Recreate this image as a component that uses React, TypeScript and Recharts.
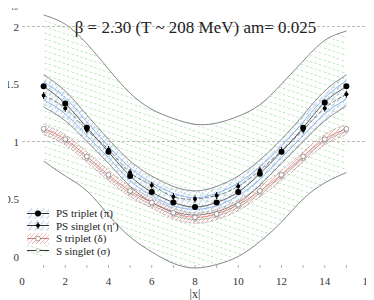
import React from 'react';
import { ComposedChart, Area, Line, XAxis, YAxis, ReferenceLine } from 'recharts';

// |x| positions and correlator values (units of 10^8)
const xs = [1, 2, 3, 4, 5, 6, 7, 8, 9, 10, 11, 12, 13, 14, 15];
const psTriplet = [1.48, 1.33, 1.12, 0.91, 0.70, 0.56, 0.47, 0.43, 0.47, 0.56, 0.72, 0.91, 1.12, 1.34, 1.48];
const psSinglet = [1.40, 1.29, 1.10, 0.93, 0.73, 0.62, 0.52, 0.50, 0.53, 0.61, 0.75, 0.92, 1.10, 1.29, 1.41];
const psBlue = [1.52, 1.38, 1.17, 0.96, 0.77, 0.64, 0.55, 0.51, 0.55, 0.64, 0.78, 0.96, 1.17, 1.38, 1.53];
const psBlue2 = [1.36, 1.24, 1.05, 0.86, 0.66, 0.53, 0.44, 0.41, 0.44, 0.53, 0.67, 0.86, 1.05, 1.24, 1.37];
const psBandHi = [1.58, 1.44, 1.23, 1.02, 0.83, 0.70, 0.61, 0.57, 0.61, 0.70, 0.84, 1.02, 1.23, 1.44, 1.58];
const psBandLo = [1.30, 1.18, 1.00, 0.81, 0.61, 0.47, 0.39, 0.36, 0.39, 0.47, 0.62, 0.81, 1.00, 1.18, 1.31];
const sTriplet = [1.11, 1.02, 0.87, 0.71, 0.57, 0.47, 0.38, 0.34, 0.37, 0.45, 0.57, 0.71, 0.87, 1.02, 1.11];
const sSinglet = [1.09, 1.00, 0.85, 0.69, 0.55, 0.45, 0.36, 0.32, 0.35, 0.43, 0.55, 0.69, 0.85, 1.00, 1.09];
const sBandHi = [1.15, 1.06, 0.91, 0.75, 0.61, 0.51, 0.42, 0.38, 0.41, 0.49, 0.61, 0.75, 0.91, 1.06, 1.15];
const sBandLo = [1.06, 0.97, 0.82, 0.66, 0.52, 0.42, 0.33, 0.29, 0.32, 0.40, 0.52, 0.66, 0.82, 0.97, 1.06];
const envHi = [2.10, 2.02, 1.85, 1.63, 1.42, 1.28, 1.20, 1.15, 1.16, 1.22, 1.32, 1.50, 1.70, 1.88, 1.96];
const envLo = [0.83, 0.70, 0.57, 0.36, 0.17, 0.04, -0.06, -0.10, -0.07, 0.00, 0.13, 0.30, 0.50, 0.64, 0.73];

const xTicks = [0, 1, 2, 3, 4, 5, 6, 7, 8, 9, 10, 11, 12, 13, 14, 15, 16];
const yTicks = [0, 0.5, 1, 1.5, 2];
const yMinor = [0, 0.1, 0.2, 0.3, 0.4, 0.5, 0.6, 0.7, 0.8, 0.9, 1, 1.1, 1.2, 1.3, 1.4, 1.5, 1.6, 1.7, 1.8, 1.9, 2, 2.1];

const data = xs.map((x, i) => ({
  x,
  env: [envLo[i], envHi[i]],
  psBand: [psBandLo[i], psBandHi[i]],
  sBand: [sBandLo[i], sBandHi[i]],
  psT: psTriplet[i],
  psS: psSinglet[i],
  psB: psBlue[i],
  psB2: psBlue2[i],
  sT: sTriplet[i],
  sS: sSinglet[i],
}));

const serif = '"Liberation Serif", "DejaVu Serif", serif';

const BottomTick = (p: any) => {
  const v = p.payload.value;
  return (
    <g>
      {v > 0 && v < 16 && <line x1={p.x} x2={p.x} y1={p.y} y2={p.y - 3} stroke="#999" strokeWidth={0.8} />}
      {v % 2 === 0 && (
        <text x={p.x} y={p.y + 13} textAnchor="middle" dominantBaseline="central" fontSize={11} fontFamily={serif} fill="#333">
          {v}
        </text>
      )}
    </g>
  );
};

const LeftTick = (p: any) => (
  <text x={p.x - 3} y={p.y} textAnchor="end" dominantBaseline="central" fontSize={11} fontFamily={serif} fill="#333">
    {String(p.payload.value)}
  </text>
);

const TopTick = (p: any) => {
  const v = p.payload.value;
  if (v <= 0 || v >= 16) return <g />;
  return <line x1={p.x} x2={p.x} y1={p.y} y2={p.y + 3} stroke="#999" strokeWidth={0.8} />;
};

const RightTick = (p: any) => <line x1={p.x} x2={p.x - 3} y1={p.y} y2={p.y} stroke="#bbb" strokeWidth={0.8} />;

const dotTriplet = (p: any) => <circle key={p.index} cx={p.cx} cy={p.cy} r={3} fill="#000" />;
const dotSinglet = (p: any) => (
  <g key={p.index}>
    <line x1={p.cx} x2={p.cx} y1={p.cy - 3.5} y2={p.cy + 3.5} stroke="#000" strokeWidth={1} />
    <circle cx={p.cx} cy={p.cy} r={2} fill="#000" />
  </g>
);
const dotSTriplet = (p: any) => <circle key={p.index} cx={p.cx} cy={p.cy} r={2.4} fill="#fff" stroke="#777" strokeWidth={0.7} />;
const dotSSinglet = (p: any) => <circle key={p.index} cx={p.cx} cy={p.cy} r={1.8} fill="none" stroke="#999" strokeWidth={0.6} />;

const Swatch = ({ pat, kind }: { pat: string; kind: string }) => (
  <svg width={22} height={11} style={{ display: 'block' }}>
    <rect x={0} y={0} width={22} height={11} fill={`url(#${pat})`} />
    <line x1={0} x2={22} y1={5.5} y2={5.5} stroke={kind === 'st' ? '#c55' : '#000'} strokeWidth={0.8} />
    {kind === 'pt' && <circle cx={11} cy={5.5} r={3} fill="#000" />}
    {kind === 'ps' && (
      <g>
        <line x1={11} x2={11} y1={2} y2={9} stroke="#000" />
        <circle cx={11} cy={5.5} r={2} fill="#000" />
      </g>
    )}
    {kind === 'st' && <circle cx={11} cy={5.5} r={2.4} fill="#fff" stroke="#777" strokeWidth={0.7} />}
    {kind === 'ss' && <circle cx={11} cy={5.5} r={1.8} fill="#fff" stroke="#999" strokeWidth={0.6} />}
  </svg>
);

const legendRows = [
  { label: 'PS triplet (π)', pat: 'hatchBlue', kind: 'pt' },
  { label: 'PS singlet (η′)', pat: 'hatchBlue', kind: 'ps' },
  { label: 'S triplet (δ)', pat: 'hatchRed', kind: 'st' },
  { label: 'S singlet (σ)', pat: 'hatchGreen', kind: 'ss' },
];

export default function App() {
  return (
    <div style={{ position: 'relative', width: 374, height: 300, margin: '-8px 0 0 -8px' }}>
      <ComposedChart width={374} height={300} data={data} margin={{ top: 15, right: 6, left: 0, bottom: 0 }}>
        <defs>
          <pattern id="hatchGreen" patternUnits="userSpaceOnUse" width={18} height={6}>
            <line x1={0} y1={0} x2={18} y2={6} stroke="#9edc9e" strokeWidth={0.7} strokeDasharray="2.5 2" />
          </pattern>
          <pattern id="hatchBlue" patternUnits="userSpaceOnUse" width={6} height={6}>
            <line x1={1} y1={6} x2={5} y2={0} stroke="#8fb2ee" strokeWidth={0.6} />
            <line x1={0} y1={3} x2={6} y2={3} stroke="#c4ccd4" strokeWidth={0.4} />
          </pattern>
          <pattern id="hatchRed" patternUnits="userSpaceOnUse" width={4} height={4}>
            <line x1={0} y1={4} x2={4} y2={0} stroke="#e88a8a" strokeWidth={0.6} />
          </pattern>
        </defs>
        <XAxis dataKey="x" type="number" domain={[0, 16]} ticks={xTicks} interval={0} axisLine={false} tickLine={false}
          tickSize={0} tickMargin={0} height={32} tick={BottomTick}
          label={{ value: '|x|', position: 'insideBottom', offset: 2, fontSize: 12, fontFamily: serif, fill: '#333' }} />
        <XAxis xAxisId="top" orientation="top" dataKey="x" type="number" domain={[0, 16]} ticks={xTicks} interval={0}
          axisLine={false} tickLine={false} tickSize={0} tickMargin={0} height={0} tick={TopTick} />
        <YAxis type="number" domain={[-0.1, 2.1]} ticks={yTicks} interval={0} width={22} axisLine={false} tickLine={false}
          tickSize={0} tickMargin={0} tick={LeftTick} />
        <YAxis yAxisId="right" orientation="right" type="number" domain={[-0.1, 2.1]} ticks={yMinor} interval={0} width={0}
          axisLine={false} tickLine={false} tickSize={0} tickMargin={0} tick={RightTick} />
        <ReferenceLine y={2} stroke="#aaa" strokeDasharray="3 2" strokeWidth={0.8} />
        <ReferenceLine y={1} stroke="#aaa" strokeDasharray="3 2" strokeWidth={0.8} />
        <Area type="natural" dataKey="env" fill="url(#hatchGreen)" fillOpacity={1} stroke="#555" strokeWidth={0.7} isAnimationActive={false} legendType="none" />
        <Area type="natural" dataKey="sBand" fill="url(#hatchRed)" fillOpacity={1} stroke="#a88" strokeWidth={0.6} strokeDasharray="3 1.5" isAnimationActive={false} legendType="none" />
        <Area type="natural" dataKey="psBand" fill="url(#hatchBlue)" fillOpacity={1} stroke="#444" strokeWidth={0.6} isAnimationActive={false} legendType="none" />
        <Line type="natural" dataKey="psB" stroke="#7ea6ea" strokeWidth={0.8} dot={false} isAnimationActive={false} />
        <Line type="natural" dataKey="psB2" stroke="#7ea6ea" strokeWidth={0.8} dot={false} isAnimationActive={false} />
        <Line type="natural" dataKey="psT" stroke="#222" strokeWidth={0.7} dot={dotTriplet} isAnimationActive={false} />
        <Line type="natural" dataKey="psS" stroke="#333" strokeWidth={0.6} strokeDasharray="4 2" dot={dotSinglet} isAnimationActive={false} />
        <Line type="natural" dataKey="sS" stroke="#999" strokeWidth={0.6} dot={dotSSinglet} isAnimationActive={false} />
        <Line type="natural" dataKey="sT" stroke="#d06060" strokeWidth={0.7} dot={dotSTriplet} isAnimationActive={false} />
      </ComposedChart>
      <div style={{ position: 'absolute', left: 5, top: 3, fontSize: 7, fontFamily: serif, color: '#555', whiteSpace: 'nowrap' }}>
        × 10<sup style={{ fontSize: 5 }}>8</sup>
      </div>
      <div style={{ position: 'absolute', left: 0, top: 19, width: 391, textAlign: 'center', fontSize: 17, lineHeight: '17px', fontFamily: serif, color: '#222' }}>
        β = 2.30 (T ~ 208 MeV) am= 0.025
      </div>
      <div style={{ position: 'absolute', left: 27, top: 207, fontFamily: serif, fontSize: 11, color: '#222' }}>
        {legendRows.map((r) => (
          <div key={r.label} style={{ display: 'flex', alignItems: 'center', height: 12.5, whiteSpace: 'nowrap' }}>
            <Swatch pat={r.pat} kind={r.kind} />
            <span style={{ marginLeft: 7 }}>{r.label}</span>
          </div>
        ))}
      </div>
    </div>
  );
}
